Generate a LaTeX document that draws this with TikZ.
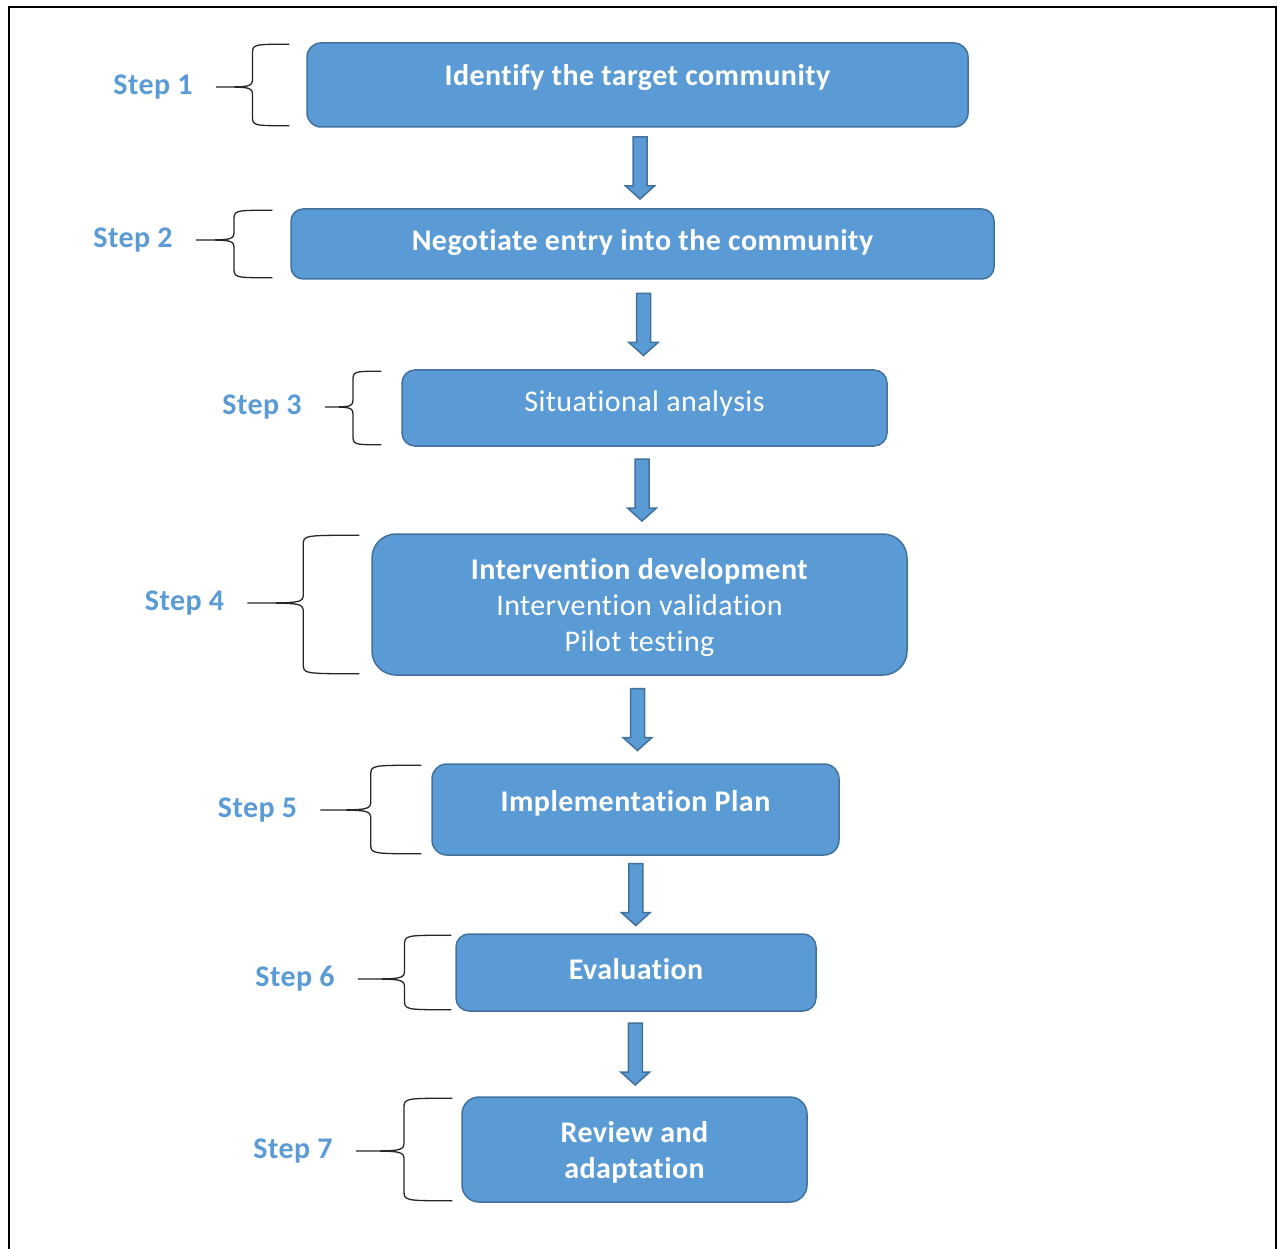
\documentclass[tikz,border=0pt]{standalone}
\usepackage{fontspec}
\setmainfont{Carlito}[Ligatures={NoCommon,NoRequired,NoContextual}, LetterSpace=1.5]
\usetikzlibrary{calc}
\definecolor{boxblue}{HTML}{5B9BD5}
\definecolor{boxedge}{HTML}{41719C}
\definecolor{stepblue}{HTML}{5B9BD5}

\tikzset{
  stepbox/.style={draw=boxedge, fill=boxblue, line width=1.5pt, inner sep=0pt},
  boxtext/.style={text=white, align=center, inner sep=0pt, font=\fontsize{30}{36}\selectfont},
  boxbold/.style={boxtext, font=\fontsize{30}{36}\selectfont\bfseries},
  steplabel/.style={text=stepblue, inner sep=0pt, font=\fontsize{30}{36}\selectfont\bfseries},
  bracepath/.style={draw=black!85, line width=1.3pt},
  arrowbody/.style={draw=boxedge, fill=boxblue, line width=1.5pt, line join=miter}
}

\newcommand\blockarrow[2]{%
  \draw[arrowbody] let \p1=($(#1.south)!0.5!(#2.north)$) in
    (\x1-7pt,\y1+31pt) -- (\x1+7pt,\y1+31pt) -- (\x1+7pt,\y1-18pt)
    -- (\x1+14.5pt,\y1-18pt) -- (\x1,\y1-31pt) -- (\x1-14.5pt,\y1-18pt)
    -- (\x1-7pt,\y1-18pt) -- cycle;}

\newcommand\stepbrace[3]{%
  \draw[bracepath] let \p1=(#2.north west), \p2=(#2.south west), \p3=(#1.east),
    \n1={\x1-#3pt}, \n2={\x3+23pt}, \n3={(\n1+\n2)/2} in
    (\n1*1pt,\y1-2pt) .. controls (\n3*1pt,\y1-2pt) .. (\n3*1pt,\y1-12pt)
    -- (\n3*1pt,\y3+10pt) .. controls (\n3*1pt,\y3) .. (\n2*1pt,\y3)
    .. controls (\n3*1pt,\y3) .. (\n3*1pt,\y3-10pt)
    -- (\n3*1pt,\y2+12pt) .. controls (\n3*1pt,\y2+2pt) .. (\n1*1pt,\y2+2pt);}

\begin{document}
\begin{tikzpicture}[x=1pt,y=-1pt]
\useasboundingbox (0,0) rectangle (1278,1249);
\draw[line width=2pt] (9,1249) -- (9,7) -- (1276,7) -- (1276,1249);

\node[stepbox, minimum width=661, minimum height=84, rounded corners=14] (b1) at (637.5,85) {};
\node[stepbox, minimum width=703, minimum height=70, rounded corners=12] (b2) at (642.5,244) {};
\node[stepbox, minimum width=485, minimum height=76, rounded corners=13] (b3) at (644.5,408) {};
\node[stepbox, minimum width=535, minimum height=141, rounded corners=24] (b4) at (639.5,604.5) {};
\node[stepbox, minimum width=407, minimum height=91, rounded corners=15] (b5) at (635.5,809.5) {};
\node[stepbox, minimum width=360, minimum height=77, rounded corners=13] (b6) at (636,972.5) {};
\node[stepbox, minimum width=345, minimum height=105, rounded corners=17] (b7) at (634.5,1149.5) {};

\node[boxbold] (t1) at ([yshift=7pt]b1.center) {Identify the target community};
\node[boxbold] (t2) at ([yshift=1pt]b2.center) {Negotiate entry into the community};
\node[boxtext] (t3) at ([yshift=4pt]b3.center) {Situational analysis};
\node[boxtext] (t4) at ([yshift=-3pt]b4.center) {\textbf{Intervention development}\\Intervention validation\\Pilot testing};
\node[boxbold] (t5) at ([yshift=6pt]b5.center) {Implementation Plan};
\node[boxbold] (t6) at ([yshift=3pt]b6.center) {Evaluation};
\node[boxbold] (t7) at ([yshift=-3pt]b7.center) {Review and\\adaptation};

\node[steplabel] (s1) at (153,87) {Step 1};
\node[steplabel] (s2) at (133,240) {Step 2};
\node[steplabel] (s3) at (262,407) {Step 3};
\node[steplabel] (s4) at (184.5,603) {Step 4};
\node[steplabel] (s5) at (257.5,810) {Step 5};
\node[steplabel] (s6) at (295,979) {Step 6};
\node[steplabel] (s7) at (293,1151) {Step 7};

\blockarrow{b1}{b2}
\blockarrow{b2}{b3}
\blockarrow{b3}{b4}
\blockarrow{b4}{b5}
\blockarrow{b5}{b6}
\blockarrow{b6}{b7}

\stepbrace{s1}{b1}{17}
\stepbrace{s2}{b2}{18}
\stepbrace{s3}{b3}{20}
\stepbrace{s4}{b4}{12}
\stepbrace{s5}{b5}{10}
\stepbrace{s6}{b6}{4}
\stepbrace{s7}{b7}{9}
\end{tikzpicture}
\end{document}
